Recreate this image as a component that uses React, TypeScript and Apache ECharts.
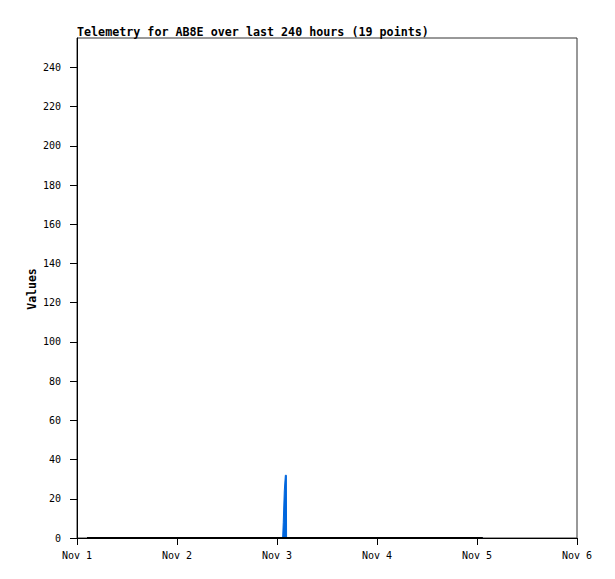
import React, { useEffect, useRef } from "react";
import * as echarts from "echarts";

const DAY = 86400000;
const START = Date.UTC(2023, 10, 1);
const END = Date.UTC(2023, 10, 6);

// hours after Nov 1 00:00 (UTC) for the 19 telemetry points
const pointHours = [2.4, 9, 16, 23, 30, 37, 44, 49.35, 49.5, 49.75, 50.0, 50.25, 50.3, 58, 66, 74, 82, 90, 97.4];
const baseValues = [0, 0, 0, 0, 0, 0, 0, 0, 0, 0, 0, 0, 0, 0, 0, 0, 0, 0, 0];
const spikeValues = [0, 0, 0, 0, 0, 0, 0, 0, 8, 24, 32, 32, 0, 0, 0, 0, 0, 0, 0];
const monthLabel = "Nov";
const yAxisName = "Values";
const yTicks = { min: 0, max: 255, interval: 20 };

export default function App() {
  const ref = useRef<HTMLDivElement>(null);
  useEffect(() => {
    if (!ref.current) return;
    const chart = echarts.init(ref.current, null, { renderer: "svg" });
    const times = pointHours.map((h) => START + h * 3600000);
    const font = "'DejaVu Sans Mono', 'Liberation Mono', monospace";
    chart.setOption({
      animation: false,
      backgroundColor: "#ffffff",
      title: {
        text: "Telemetry for AB8E over last 240 hours (19 points)",
        left: 72,
        top: 21,
        textStyle: { fontFamily: font, fontSize: 11.7, fontWeight: "bold", color: "#000" },
      },
      graphic: [
        {
          type: "text",
          x: 32,
          y: 289,
          rotation: Math.PI / 2,
          style: {
            text: yAxisName,
            fontFamily: font,
            fontSize: 11.5,
            fontWeight: "bold",
            fill: "#000",
            align: "center",
            verticalAlign: "middle",
          },
        },
      ],
      grid: { left: 77, right: 38, top: 38, bottom: 41, show: true, borderColor: "#333", borderWidth: 1, backgroundColor: "transparent" },
      xAxis: {
        type: "value",
        min: START,
        max: END,
        interval: DAY,
        axisLine: { show: true, lineStyle: { color: "#000", width: 1 } },
        axisTick: { show: true, length: 7, inside: false, lineStyle: { color: "#000" } },
        splitLine: { show: false },
        axisLabel: {
          margin: 12,
          fontFamily: font,
          fontSize: 10,
          color: "#000",
          formatter: (v: number) => monthLabel + " " + new Date(v).getUTCDate(),
        },
      },
      yAxis: {
        type: "value",
        min: yTicks.min,
        max: yTicks.max,
        interval: yTicks.interval,
        axisLine: { show: true, lineStyle: { color: "#000", width: 1 } },
        axisTick: { show: true, length: 7, lineStyle: { color: "#000" } },
        splitLine: { show: false },
        axisLabel: {
          margin: 16,
          fontFamily: font,
          fontSize: 10,
          color: "#000",
          showMaxLabel: false,
        },
      },
      series: [
        {
          type: "line",
          data: times.map((t, i) => [t, spikeValues[i]]),
          showSymbol: false,
          symbol: "none",
          lineStyle: { color: "#0066dd", width: 1 },
          areaStyle: { color: "#0066dd", opacity: 1 },
          z: 2,
        },
        {
          type: "line",
          data: times.map((t, i) => [t, baseValues[i]]),
          showSymbol: false,
          symbol: "none",
          lineStyle: { color: "#000", width: 2 },
          z: 3,
        },
      ],
    });
    return () => chart.dispose();
  }, []);
  return <div ref={ref} style={{ width: 615, height: 579, position: "absolute", left: 0, top: 0 }} />;
}
